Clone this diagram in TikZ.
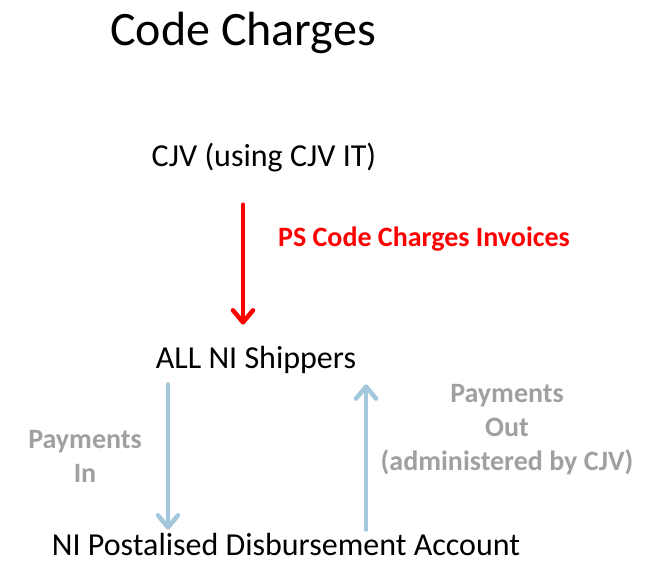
\documentclass[tikz,border=0pt]{standalone}
\usepackage{fontspec}
\setmainfont{Carlito}
\usetikzlibrary{arrows.meta,positioning}
\definecolor{rojo}{HTML}{FF0000}
\definecolor{celeste}{HTML}{A3C7DC}
\definecolor{gris}{HTML}{A0A0A0}

\begin{document}
\begin{tikzpicture}[x=1pt,y=-1pt,
    txt/.style={inner sep=0pt,font=\fontsize{32}{38}\selectfont},
    nota/.style={inner sep=0pt,align=center,text=gris,
                 font=\fontsize{28}{34}\selectfont\bfseries},
    flecha/.style={line width=4.5pt,line cap=round,
                   -{Straight Barb[round,length=12pt,width=20pt]}}]
  \useasboundingbox[fill=white] (0,0) rectangle (646,563);
  \node[anchor=base,inner sep=0pt,font=\fontsize{48}{56}\selectfont] (title) at (243,45) {Code Charges};
  \node[txt,anchor=base] (cjv) at (264,166) {CJV (using CJV IT)};
  \node[txt,anchor=base] (ship) at (256,368) {ALL NI Shippers};
  \node[txt,anchor=base] (acct) at (286,555) {NI Postalised Disbursement Account};
  \node[inner sep=0pt,anchor=base west,text=rojo,
        font=\fontsize{28}{34}\selectfont\bfseries] (inv) at (278,246) {PS Code Charges Invoices};
  \node[nota,anchor=north] (pin) at (85,430) {Payments\\In};
  \node[nota,anchor=north] (pout) at (507,384) {Payments\\Out\\(administered by CJV)};
  \draw[flecha,rojo] ([xshift=-21pt,yshift=-33pt]cjv.south) -- ([xshift=-13pt,yshift=21pt]ship.north);
  \draw[flecha,celeste] ([xshift=-88pt,yshift=-11pt]ship.south) -- ([xshift=-118pt,yshift=3pt]acct.north);
  \draw[flecha,celeste] ([xshift=80pt,yshift=3pt]acct.north) -- ([xshift=110pt,yshift=-11pt]ship.south);
\end{tikzpicture}
\end{document}
